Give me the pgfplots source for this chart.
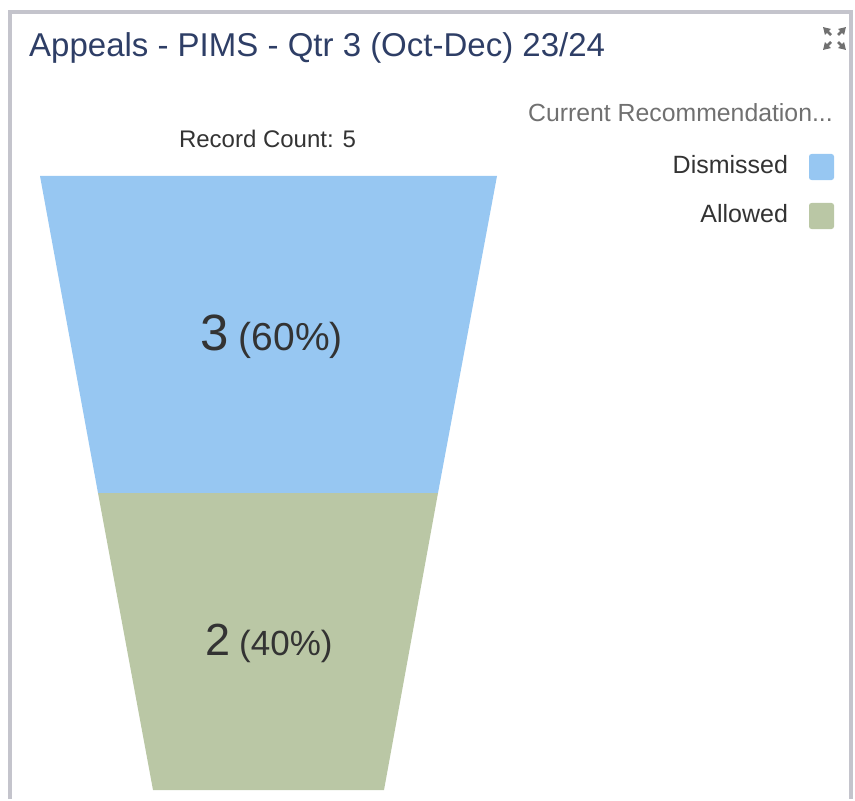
\documentclass[border=0pt]{standalone}
\usepackage{pgfplots}
\pgfplotsset{compat=1.18}
\usepackage{fontspec}
\setmainfont{Liberation Sans}
\usetikzlibrary{arrows.meta}
\definecolor{dismblue}{RGB}{151,199,242}
\definecolor{allowgreen}{RGB}{186,199,165}
\definecolor{titlenavy}{RGB}{46,62,102}
\definecolor{framegray}{RGB}{196,196,204}
\definecolor{txtdark}{RGB}{51,51,51}
\definecolor{txtgray}{RGB}{112,112,112}
\newcommand{\fs}[1]{\fontsize{#1bp}{#1bp}\selectfont}
\begin{document}
\begin{tikzpicture}
\begin{axis}[
  width=855bp, height=799bp, scale only axis,
  xmin=0, xmax=855, ymin=0, ymax=799, y dir=reverse,
  hide axis, clip=false,
  legend plot pos=right,
  legend cell align=right,
  legend style={at={(axis cs:834,154)}, anchor=north east, draw=none, fill=none,
    inner sep=0pt, outer sep=0pt, row sep=23bp, column sep=21bp,
    font=\fs{25}\color{txtdark},
    nodes={inner sep=0pt, text height=17bp, text depth=0bp}},
  legend image code/.code={\fill[rounded corners=2.5bp] (0bp,-15bp) rectangle (25bp,11bp);},
]
\path (axis cs:0,0) rectangle (axis cs:855,799);
% funnel segments (Dismissed = 3, Allowed = 2)
\addplot[fill=dismblue, draw=none] coordinates {(40,176) (497,176) (438,493) (98,493)} -- cycle;
\addlegendentry{Dismissed}
\addplot[fill=allowgreen, draw=none] coordinates {(98,493) (438,493) (384,790) (153,790)} -- cycle;
\addlegendentry{Allowed}

% frame
\draw[framegray, line width=4bp] (axis cs:10,799) -- (axis cs:10,12) -- (axis cs:851,12) -- (axis cs:851,799);

% title
\node[anchor=base west, inner sep=0pt, text=titlenavy, font=\fs{33}] at (axis cs:29,57) {Appeals - PIMS - Qtr 3 (Oct-Dec) 23/24};

% expand icon
\begin{scope}[txtgray, line width=2.6bp, -{Triangle[length=7bp,width=8bp]}]
\draw (axis cs:831,35) -- (axis cs:823,27);
\draw (axis cs:838,35) -- (axis cs:846,27);
\draw (axis cs:831,42) -- (axis cs:823,50);
\draw (axis cs:838,42) -- (axis cs:846,50);
\end{scope}

% record count
\node[anchor=base, inner sep=0pt, text=txtdark, font=\fs{24}] at (axis cs:267.5,148) {Record Count: 5};

% legend title
\node[anchor=base east, inner sep=0pt, text=txtgray, font=\fs{24.8}] at (axis cs:833,122) {Current Recommendation...};

% data labels
\node[anchor=base west, inner sep=0pt, text=txtdark] at (axis cs:200,350) {\fs{51}3\hspace{0.2em}\fs{39}(60\%)};
\node[anchor=base west, inner sep=0pt, text=txtdark] at (axis cs:205,655) {\fs{45}2\hspace{0.2em}\fs{35}(40\%)};
\end{axis}
\end{tikzpicture}
\end{document}
